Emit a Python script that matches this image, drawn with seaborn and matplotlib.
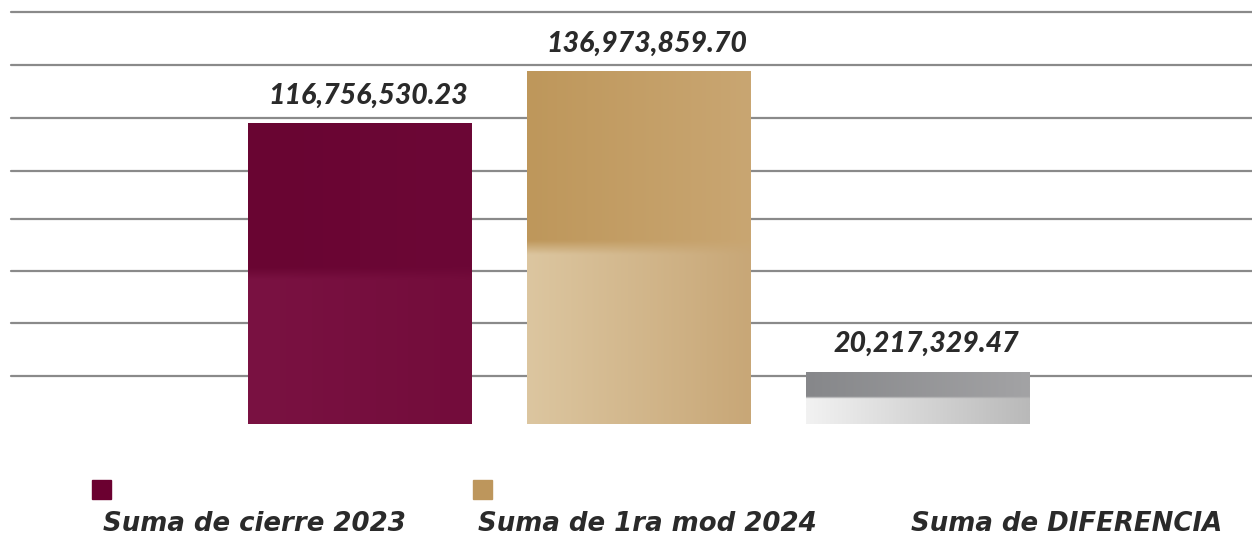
import numpy as np
import pandas as pd
import matplotlib
matplotlib.use("Agg")
import matplotlib.pyplot as plt
import seaborn as sns
from matplotlib.colors import to_rgb
from matplotlib.patches import Rectangle

categories = ["Suma de cierre 2023", "Suma de 1ra mod 2024", "Suma de DIFERENCIA"]
values = [116756530.23, 136973859.70, 20217329.47]
value_labels = ["116,756,530.23", "136,973,859.70", "20,217,329.47"]
# gridline levels (millions)
grid_levels = [18.5, 39.0, 59.3, 79.5, 98.1, 118.7, 139.3, 159.9]

# (top-left, top-right, bottom-left, bottom-right, split) for each bar's fill
fills = [
    ("#690532", "#6c0736", "#7a1242", "#730c3b", 0.50),
    ("#be975b", "#c9a672", "#dcc6a0", "#c8a777", 0.50),
    ("#86878a", "#a3a3a5", "#f2f2f2", "#b9b9b9", 0.50),
]
legend_colors = ["#6b0030", "#bd965c", None]

sns.set_style("white")
plt.rcParams["font.family"] = ["Lato", "DejaVu Sans"]

df = pd.DataFrame({"cat": categories, "val": np.array(values) / 1e6})

fig = plt.figure(figsize=(12.52, 5.33), dpi=100)
ax = fig.add_axes([0, 0.2054, 1, 0.7946])
sns.barplot(data=df, x="cat", y="val", ax=ax, width=0.8, color="white", zorder=3)
ax.axis("off")

for g in grid_levels:
    ax.axhline(g, xmin=0.009, xmax=1, color="#8a8a8a", lw=1.6, zorder=1)


def gradient(tl, tr, bl, br, split, n=200):
    t = np.linspace(0, 1, n)[None, :, None]
    top = np.array(to_rgb(tl)) * (1 - t) + np.array(to_rgb(tr)) * t
    bot = np.array(to_rgb(bl)) * (1 - t) + np.array(to_rgb(br)) * t
    rows = np.linspace(0, 1, n)[:, None, None]
    k = np.clip((rows - split) / 0.04 + 0.5, 0, 1)
    return top * (1 - k) + bot * k


for bar, f, lbl in zip(ax.patches, fills, value_labels):
    x0, y0 = bar.get_x(), bar.get_y()
    w, h = bar.get_width(), bar.get_height()
    bar.set_edgecolor("none")
    # row 0 of the image is the top of the bar
    im = ax.imshow(gradient(*f), extent=[x0, x0 + w, y0, y0 + h],
                   aspect="auto", zorder=4, interpolation="bilinear")
    im.set_clip_path(bar)
    ax.annotate(lbl, (x0 + w / 2, y0 + h), xytext=(6, 14), textcoords="offset points",
                ha="center", va="baseline", fontsize=20.5, fontweight=900,
                fontstyle="italic", color="#2a2a2a", zorder=5)

ax.set_xlim(-1.29, 3.197)
ax.set_ylim(0, 164.6)

# legend drawn by hand: swatches above, names below
W, H = 1252, 533
sw_x = [92, 473]
for c, sx in zip(legend_colors[:2], sw_x):
    fig.patches.append(Rectangle((sx / W, 1 - 499 / H), 19 / W, 19 / H,
                                 transform=fig.transFigure, color=c))
for name, tx in zip(categories, [103, 478, 911]):
    fig.text(tx / W, 1 - 531 / H, name, ha="left", va="baseline", fontsize=18.7,
             fontweight="bold", fontstyle="italic", color="#2a2a2a",
             family=["DejaVu Sans"])

fig.savefig("out.png", dpi=100)
